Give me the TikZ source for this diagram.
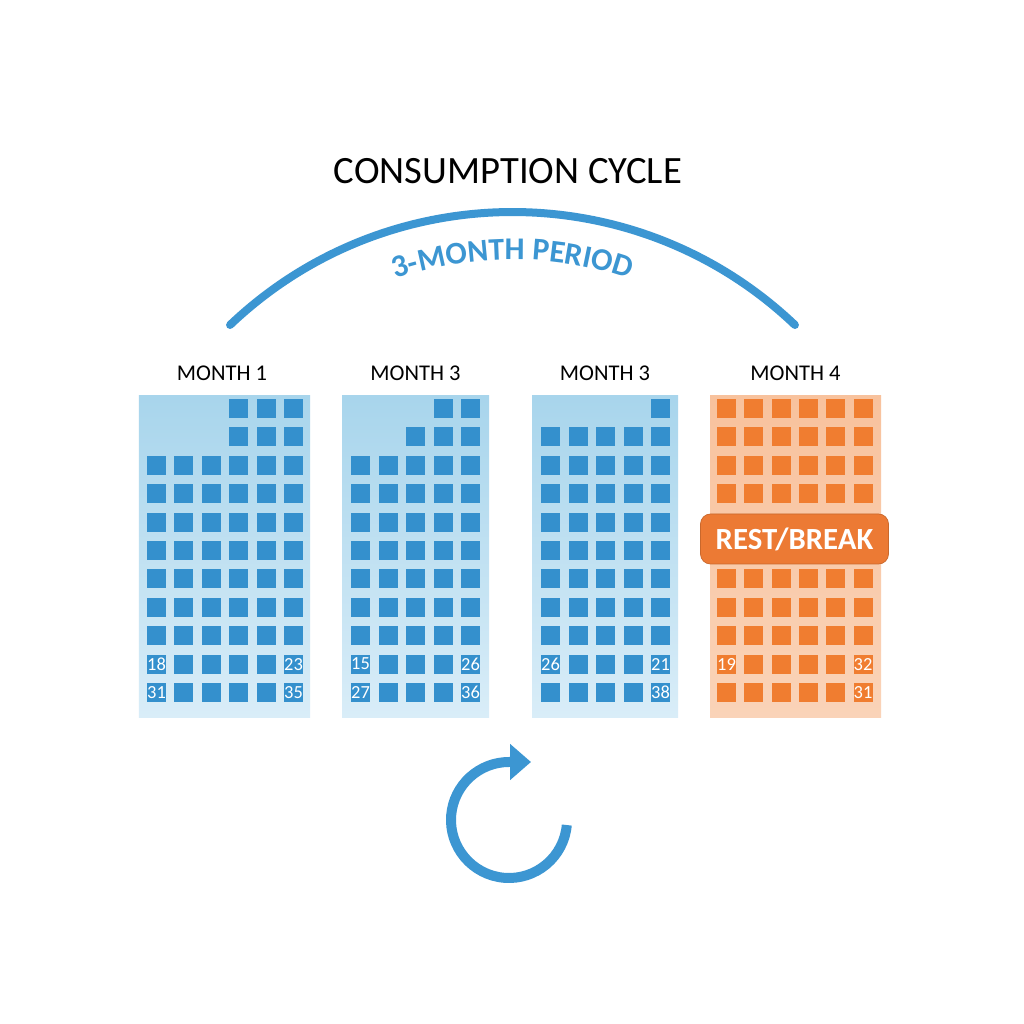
\documentclass[tikz,border=0pt]{standalone}
\usepackage{fontspec}
\setmainfont{Carlito}
\usetikzlibrary{positioning, arrows.meta, decorations.text}
\definecolor{calBlue}{HTML}{3490CD}
\definecolor{arcBlue}{HTML}{3C96D2}
\definecolor{panelTop}{HTML}{A8D5EC}
\definecolor{panelBot}{HTML}{D9EDF8}
\definecolor{restOrange}{HTML}{F07D30}
\definecolor{restTop}{HTML}{F8C29D}
\definecolor{restBot}{HTML}{FAD3B8}
\definecolor{bannerOrange}{HTML}{EC7A34}
\newcommand{\periodfont}{\color{arcBlue}\fontsize{18}{20}\selectfont\bfseries}
\tikzset{
  every node/.style={font=\fontsize{12.8}{14}\selectfont},
  headlbl/.style={font=\fontsize{22}{24}\selectfont, text=black},
  monthlbl/.style={font=\fontsize{12.8}{14}\selectfont, text=black},
  panel/.style={inner sep=0pt, minimum height=64.2mm, top color=panelTop, bottom color=panelBot, draw=none},
  restpanel/.style={panel, top color=restTop, bottom color=restBot},
  day/.style={fill=calBlue, minimum size=3.8mm, inner sep=0pt},
  dayRest/.style={day, fill=restOrange},
  daynum/.style={text=white, inner sep=0pt, font=\fontsize{10.5}{10}\selectfont},
  periodarc/.style={arcBlue, line width=1.6mm, line cap=round},
  loopArrow/.style={arcBlue, line width=2mm, -{Triangle[length=4.2mm, width=7mm]}},
  banner/.style={fill=bannerOrange, draw=bannerOrange!85!black, rounded corners=2mm, minimum width=37.6mm,
                 minimum height=10mm, text=white, font=\fontsize{17.5}{19}\selectfont\bfseries},
}
\begin{document}
\begin{tikzpicture}[x=0.2mm, y=0.2mm]
  \fill[white] (0,0) rectangle (1024,1024);
  \useasboundingbox (0,0) rectangle (1024,1024);
  % --- heading and the period arc ---
  \node[headlbl] (title) at (508,853) {CONSUMPTION CYCLE};
  \coordinate (arcC) at (512.5,402.4);
  \draw[periodarc] ([shift={(133.6:409.6)}]arcC) arc[start angle=133.6, end angle=46.4, radius=409.6];
  \path[decorate, decoration={text along path, text align=center, text={|\periodfont|3-MONTH PERIOD}}]
    ([shift={(152:362)}]arcC) arc[start angle=152, end angle=28, radius=362];
  % --- month panels ---
  \node[panel, minimum width=34.2mm] (p1) at (224.5,467.5) {};
  \node[panel, minimum width=29.4mm] (p2) at (415.5,467.5) {};
  \node[panel, minimum width=29.2mm] (p3) at (605,467.5) {};
  \node[restpanel, minimum width=34.2mm] (p4) at (795.5,467.5) {};
  \node[monthlbl] (l1) at (222,651) {MONTH 1};
  \node[monthlbl] (l2) at (415.5,651) {MONTH 3};
  \node[monthlbl] (l3) at (605,651) {MONTH 3};
  \node[monthlbl] (l4) at (795.5,651) {MONTH 4};
  % month 1: top rows start late
  \foreach \r/\first in {1/4,2/4,3/1,4/1,5/1,6/1,7/1,8/1,9/1,10/1,11/1}
    \foreach \c in {\first,...,6}
      \node[day] (a-\r-\c) at ({129.1+27.4*\c}, {643.9-28.4*\r}) {};
  % month 3 (first)
  \foreach \r/\first in {1/4,2/3,3/1,4/1,5/1,6/1,7/1,8/1,9/1,10/1,11/1}
    \foreach \c in {\first,...,5}
      \node[day] (b-\r-\c) at ({333+27.5*\c}, {643.9-28.4*\r}) {};
  % month 3 (second)
  \foreach \r/\first in {1/5,2/1,3/1,4/1,5/1,6/1,7/1,8/1,9/1,10/1,11/1}
    \foreach \c in {\first,...,5}
      \node[day] (c-\r-\c) at ({523+27.5*\c}, {643.9-28.4*\r}) {};
  % month 4: rows 5 and 6 sit under the banner
  \foreach \r in {1,2,3,4,7,8,9,10,11}
    \foreach \c in {1,...,6}
      \node[dayRest] (d-\r-\c) at ({699.2+27.3*\c}, {643.9-28.4*\r}) {};
  % day numbers
  \node[daynum] (a18) at (a-10-1) {18};
  \node[daynum] (a23) at (a-10-6) {23};
  \node[daynum] (a31) at (a-11-1) {31};
  \node[daynum] (a35) at (a-11-6) {35};
  \node[daynum] (b15) at (b-10-1) {15};
  \node[daynum] (b26) at (b-10-5) {26};
  \node[daynum] (b27) at (b-11-1) {27};
  \node[daynum] (b36) at (b-11-5) {36};
  \node[daynum] (c26) at (c-10-1) {26};
  \node[daynum] (c21) at (c-10-5) {21};
  \node[daynum] (c38) at (c-11-5) {38};
  \node[daynum] (d19) at (d-10-1) {19};
  \node[daynum] (d32) at (d-10-6) {32};
  \node[daynum] (d31) at (d-11-6) {31};
  \node[banner] (rest) at (794.5,485) {REST/BREAK};
  % --- repeat arrow ---
  \coordinate (cyc) at (509,204);
  \coordinate (cycTip) at (531,262);
  \draw[loopArrow] ([shift={(-5:58)}]cyc) arc[start angle=-5, end angle=-270, radius=58] -- (cycTip);
\end{tikzpicture}
\end{document}
